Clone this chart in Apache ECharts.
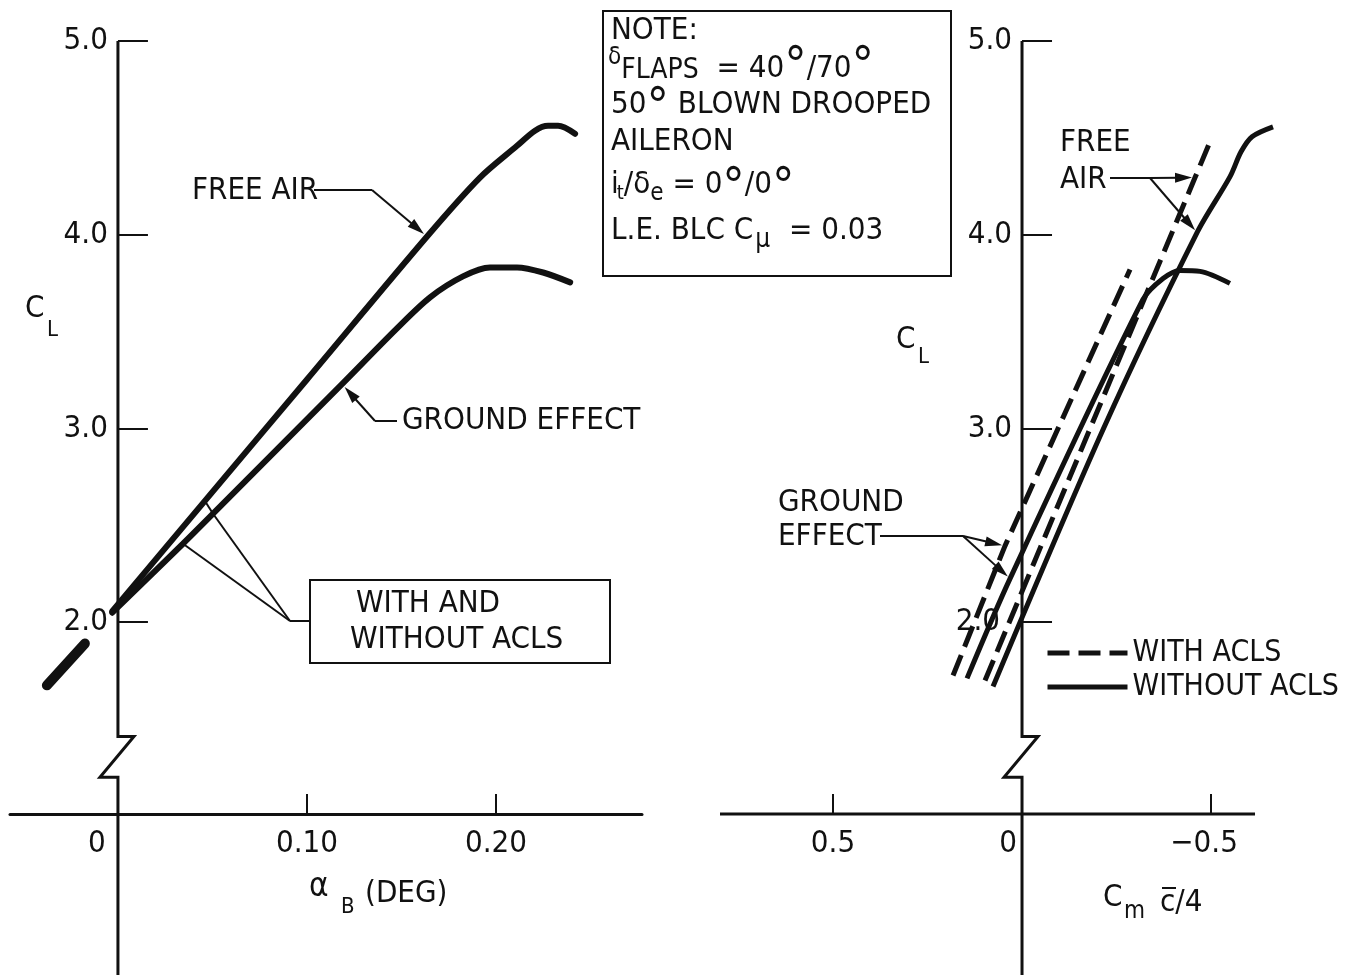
<!DOCTYPE html>
<html>
<head>
<meta charset="utf-8">
<title>Lift coefficient vs body angle and pitching moment</title>
<script src="https://cdn.jsdelivr.net/npm/echarts@6.0.0/dist/echarts.min.js"></script>
<style>
  html, body { margin: 0; padding: 0; background: #fff; }
  #chart { width: 1367px; height: 975px; }
</style>
</head>
<body>
<div id="chart"></div>
<script>
// ---------- tick values ----------
const clTicks = [2, 3, 4, 5];
const alphaTicks = [0.1, 0.2];
const alphaLabels = [0, 0.1, 0.2];
const cmTicks = [0.5, -0.5];
const cmLabels = [0.5, 0, -0.5];

// ---------- left panel: C_L vs alpha_B (deg) ----------
const freeAirAlpha = [-0.003, 0.046, 0.100, 0.1635, 0.1915, 0.2111, 0.2206, 0.2275, 0.2328, 0.2418];
const freeAirCL    = [2.057, 2.626, 3.253, 3.991, 4.295, 4.459, 4.537, 4.562, 4.562, 4.521];
const groundAlpha  = [-0.003, 0.0344, 0.0503, 0.1185, 0.1476, 0.1651, 0.1825, 0.1968, 0.2111, 0.2249, 0.2392];
const groundCL     = [2.049, 2.405, 2.560, 3.229, 3.517, 3.677, 3.785, 3.831, 3.831, 3.805, 3.754];
// both curves coincide below C_L = 2 (drawn as one heavy stroke)
const sharedAlpha  = [-0.0376, -0.0175];
const sharedCL     = [1.674, 1.890];

// ---------- right panel: C_L vs C_m c/4 ----------
const cmFreeWith       = [0.0979, -0.0503, -0.4577, -0.4974];
const clFreeWith       = [1.699, 2.394, 4.295, 4.480];
const cmGroundWith     = [0.1825, 0.045, -0.2857];
const clGroundWith     = [1.725, 2.394, 3.821];
const cmFreeWithout    = [0.0767, -0.215, -0.463, -0.5503, -0.5794, -0.6085, -0.664];
const clFreeWithout    = [1.668, 2.997, 4.011, 4.300, 4.428, 4.506, 4.557];
const cmGroundWithout  = [0.1455, 0.0317, -0.320, -0.373, -0.418, -0.471, -0.550];
const clGroundWithout  = [1.710, 2.225, 3.666, 3.774, 3.816, 3.811, 3.749];

const zip = (xs, ys) => xs.map((x, i) => [x, ys[i]]);

const INK = '#111';
const FONT = '"DejaVu Sans Condensed", "DejaVu Sans", sans-serif';
const FS = 31;

// axis extents (the right plot area runs a little past its drawn axis line)
const alphaMin = -0.0571, alphaMax = 0.2772;
const cmMin = -0.6825, cmMax = 0.799, cmLineEnd = -0.6164;
const gridL = { left: 10, top: 41, width: 632, height: 773 };
const gridR = { left: 720, top: 41, width: 560, height: 773 };
// the C_L axes stand at zero of the horizontal axes
const offsetL = -gridL.width * (0 - alphaMin) / (alphaMax - alphaMin);
const offsetR = -gridR.width * (cmMax - 0) / (cmMax - cmMin);   // right x axis runs reversed

const chart = echarts.init(document.getElementById('chart'), null, { renderer: 'canvas' });

function yAxisCfg(grid, offset, rich2) {
  return {
    gridIndex: grid, type: 'value', min: 1.01, max: 5.0, position: 'left', offset: offset,
    axisLine: { show: true, onZero: false, lineStyle: { color: 'rgba(0,0,0,0)', width: 3 } },
    axisTick: { show: true, customValues: clTicks, inside: true, length: 30, lineStyle: { color: INK, width: 2 } },
    axisLabel: {
      show: true, customValues: clTicks, margin: 10,
      fontSize: FS, fontFamily: FONT, color: INK,
      formatter: v => (rich2 && v === 2) ? '{s|2.0}' : v.toFixed(1),
      rich: { s: { fontSize: FS, fontFamily: FONT, color: INK, padding: [0, 12, 0, 0] } }
    },
    splitLine: { show: false }
  };
}

const lineBase = { type: 'line', symbol: 'none', clip: false, silent: true, animation: false };

const option = {
  animation: false,
  backgroundColor: '#fff',
  grid: [
    Object.assign({ outerBoundsMode: 'none', containLabel: false }, gridL),
    Object.assign({ outerBoundsMode: 'none', containLabel: false }, gridR)
  ],
  xAxis: [
    {
      gridIndex: 0, type: 'value', min: alphaMin, max: alphaMax,
      axisLine: { show: true, onZero: false, lineStyle: { color: INK, width: 3 } },
      axisTick: { show: true, customValues: alphaTicks, inside: true, length: 20, lineStyle: { color: INK, width: 2 } },
      axisLabel: {
        show: true, customValues: alphaLabels, margin: 14,
        fontSize: FS, fontFamily: FONT, color: INK,
        formatter: v => v === 0 ? '{z|0}' : v.toFixed(2),
        rich: { z: { fontSize: FS, fontFamily: FONT, color: INK, padding: [0, 42, 0, 0] } }
      },
      splitLine: { show: false }
    },
    {
      gridIndex: 1, type: 'value', min: cmMin, max: cmMax, inverse: true,
      axisLine: { show: false, onZero: false },
      axisTick: { show: true, customValues: cmTicks, inside: true, length: 20, lineStyle: { color: INK, width: 2 } },
      axisLabel: {
        show: true, customValues: cmLabels, margin: 14,
        fontSize: FS, fontFamily: FONT, color: INK,
        formatter: v => v === 0 ? '{z|0}' : (v < 0 ? '{n|\u2212' + Math.abs(v).toFixed(1) + '}' : v.toFixed(1)),
        rich: {
          z: { fontSize: FS, fontFamily: FONT, color: INK, padding: [0, 28, 0, 0] },
          n: { fontSize: FS, fontFamily: FONT, color: INK, padding: [0, 14, 0, 0] }
        }
      },
      splitLine: { show: false }
    }
  ],
  yAxis: [yAxisCfg(0, offsetL, false), yAxisCfg(1, offsetR, true)],
  legend: {
    data: ['WITH ACLS', 'WITHOUT ACLS'],
    orient: 'vertical', left: 1045, top: 638, padding: 0,
    itemWidth: 80, itemHeight: 14, itemGap: 4,
    selectedMode: false,
    itemStyle: { opacity: 0 },
    lineStyle: { width: 5 },
    textStyle: { fontSize: 30, fontFamily: FONT, color: INK }
  },
  series: [
    Object.assign({}, lineBase, { name: 'FREE AIR', xAxisIndex: 0, yAxisIndex: 0, smooth: 0.3,
      data: zip(freeAirAlpha, freeAirCL), lineStyle: { color: INK, width: 6, cap: 'round' } }),
    Object.assign({}, lineBase, { name: 'GROUND EFFECT', xAxisIndex: 0, yAxisIndex: 0, smooth: 0.3,
      data: zip(groundAlpha, groundCL), lineStyle: { color: INK, width: 6, cap: 'round' } }),
    Object.assign({}, lineBase, { name: 'LOW RANGE', xAxisIndex: 0, yAxisIndex: 0,
      data: zip(sharedAlpha, sharedCL), lineStyle: { color: INK, width: 10, cap: 'round' } }),

    Object.assign({}, lineBase, { name: 'WITH ACLS', xAxisIndex: 1, yAxisIndex: 1,
      data: zip(cmFreeWith, clFreeWith), lineStyle: { color: INK, width: 5, type: [22, 9] } }),
    Object.assign({}, lineBase, { name: 'WITH ACLS', xAxisIndex: 1, yAxisIndex: 1,
      data: zip(cmGroundWith, clGroundWith), lineStyle: { color: INK, width: 5, type: [22, 9] } }),
    Object.assign({}, lineBase, { name: 'WITHOUT ACLS', xAxisIndex: 1, yAxisIndex: 1, smooth: 0.3,
      data: zip(cmFreeWithout, clFreeWithout), lineStyle: { color: INK, width: 5 } }),
    Object.assign({}, lineBase, { name: 'WITHOUT ACLS', xAxisIndex: 1, yAxisIndex: 1, smooth: 0.3,
      data: zip(cmGroundWithout, clGroundWithout), lineStyle: { color: INK, width: 5 } })
  ]
};

chart.setOption(option);

// ---------- annotations, broken axes, note box ----------
const H = chart.getHeight();
const px0 = (a, c) => chart.convertToPixel({ gridIndex: 0 }, [a, c]);
const px1 = (m, c) => chart.convertToPixel({ gridIndex: 1 }, [m, c]);

const mctx = document.createElement('canvas').getContext('2d');
const measure = (t, s) => { mctx.font = s + 'px ' + FONT; return mctx.measureText(t).width; };

function txt(x, y, t, s, extra) {
  return {
    type: 'text', x: x, y: y, silent: true,
    style: Object.assign({ text: t, fontSize: s, fontFamily: FONT, fill: INK,
      align: 'left', verticalAlign: 'middle', textAlign: 'left', textVerticalAlign: 'middle' }, extra || {})
  };
}
// a run of text pieces laid out left to right; dy shifts sub/superscripts
function run(x, y, parts) {
  const out = [];
  parts.forEach(p => {
    const s = p.s || FS;
    x += (p.dx || 0);
    out.push(txt(x, y + (p.dy || 0), p.t, s));
    x += measure(p.t, s);
  });
  return out;
}
function seg(a, b, w) {
  return { type: 'line', silent: true, shape: { x1: a[0], y1: a[1], x2: b[0], y2: b[1] },
    style: { stroke: INK, lineWidth: w || 2 } };
}
function arrow(from, to) {
  const dx = to[0] - from[0], dy = to[1] - from[1];
  const L = Math.hypot(dx, dy), ux = dx / L, uy = dy / L;
  const hl = 17, hw = 5;
  const b = [to[0] - ux * hl, to[1] - uy * hl];
  return [
    seg(from, [b[0] + ux * 4, b[1] + uy * 4], 2),
    { type: 'polygon', silent: true,
      shape: { points: [to, [b[0] - uy * hw, b[1] + ux * hw], [b[0] + uy * hw, b[1] - ux * hw]] },
      style: { fill: INK } }
  ];
}
function brokenAxis(px) {
  const top = px(0, 5.0), a = px(0, 1.41), b = px(0, 1.20);
  return { type: 'polyline', silent: true,
    shape: { points: [top, a, [a[0] + 16, a[1]], [a[0] - 18, b[1]], b, [b[0], H]] },
    style: { stroke: INK, lineWidth: 3, fill: null, lineJoin: 'miter' } };
}
// pull a point a few pixels back toward where the arrow comes from
function back(p, from, d) {
  const dx = p[0] - from[0], dy = p[1] - from[1], L = Math.hypot(dx, dy);
  return [p[0] - dx / L * d, p[1] - dy / L * d];
}

const els = [];
els.push(brokenAxis(px0), brokenAxis(px1));
// right horizontal axis line, ending short of the plot area
els.push(seg(px1(cmMax, 1.01), px1(cmLineEnd, 1.01), 3));

// left axis titles
els.push(txt(25, 309, 'C', FS), txt(47, 330, 'L', 22));
els.push(txt(309, 887, '\u03b1', 33), txt(341, 907, 'B', 22), txt(365, 894, '(DEG)', FS));

// left annotations
els.push(txt(192, 191, 'FREE AIR', FS));
const faFrom = [372, 190];
els.push(seg([314, 190], faFrom));
els.push(...arrow(faFrom, back(px0(0.1635, 3.991), faFrom, 4)));

els.push(txt(402, 421, 'GROUND EFFECT', FS));
const geFrom = [375, 421];
els.push(seg([397, 421], geFrom));
els.push(...arrow(geFrom, back(px0(0.1185, 3.229), geFrom, 4)));

els.push({ type: 'rect', silent: true, shape: { x: 310, y: 580, width: 300, height: 83 },
  style: { fill: '#fff', stroke: INK, lineWidth: 2 } });
els.push(txt(356, 604, 'WITH AND', FS), txt(350, 640, 'WITHOUT ACLS', FS));
const wwFrom = [290, 621];
els.push(seg([310, 621], wwFrom));
const pUpper = px0(0.046, 2.626), pLower = px0(0.0503, 2.560), pLow2 = px0(0.0344, 2.405);
els.push(seg(wwFrom, pLower), seg(pLower, pUpper), seg(wwFrom, pLow2));

// note box
els.push({ type: 'rect', silent: true, shape: { x: 603, y: 11, width: 348, height: 265 },
  style: { fill: '#fff', stroke: INK, lineWidth: 2 } });
const deg = dy => ({ t: '\u00b0', s: 50, dy: dy });
els.push(txt(611, 31, 'NOTE:', FS));
els.push(...run(608, 69, [
  { t: '\u03b4', s: 24, dy: -11 }, { t: 'FLAPS', s: 28, dy: 2 },
  { t: '  = 40', s: FS }, deg(0), { t: '/70', s: FS }, deg(0)
]));
els.push(...run(611, 105, [{ t: '50', s: FS }, deg(5), { t: ' BLOWN DROOPED', s: FS }]));
els.push(txt(611, 142, 'AILERON', FS));
els.push(...run(611, 185, [
  { t: 'i', s: FS }, { t: 't', s: 20, dy: 9, dx: -2 }, { t: '/', s: FS },
  { t: '\u03b4', s: FS }, { t: 'e', s: 24, dy: 9 }, { t: ' = 0', s: FS }, deg(5), { t: '/0', s: FS }, deg(5)
]));
els.push(...run(611, 231, [
  { t: 'L.E. BLC C', s: FS }, { t: '\u03bc', s: 26, dy: 9, dx: 2 }, { t: ' = 0.03', s: FS, dx: 10 }
]));

// right axis titles
els.push(txt(896, 340, 'C', FS), txt(918, 357, 'L', 22));
els.push(txt(1103, 898, 'C', FS), txt(1124, 912, 'm', 24), txt(1160, 903, 'c/4', FS));
els.push(seg([1162, 888], [1176, 888], 2));

// right annotations
els.push(txt(1060, 143, 'FREE', FS), txt(1060, 180, 'AIR', FS));
const raFrom = [1150, 178];
els.push(seg([1110, 178], raFrom));
els.push(...arrow(raFrom, back(px1(-0.4577, 4.295), raFrom, 3)));
els.push(...arrow(raFrom, back(px1(-0.463, 4.011), raFrom, 3)));

els.push(txt(778, 503, 'GROUND', FS), txt(778, 537, 'EFFECT', FS));
const rgFrom = [963, 536];
els.push(seg([880, 536], rgFrom));
els.push(...arrow(rgFrom, back(px1(0.045, 2.394), rgFrom, 3)));
els.push(...arrow(rgFrom, back(px1(0.0317, 2.225), rgFrom, 3)));

chart.setOption({ graphic: { elements: els } });
</script>
</body>
</html>
